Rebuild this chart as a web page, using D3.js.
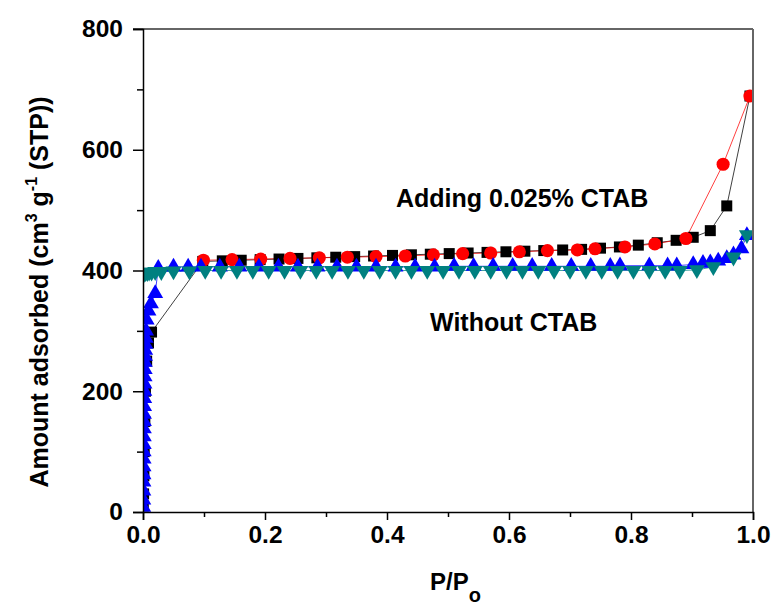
<!DOCTYPE html>
<html><head><meta charset="utf-8">
<script src="https://cdn.jsdelivr.net/npm/d3@7/dist/d3.min.js"></script>
<style>
html,body{margin:0;padding:0;background:#fff;}
svg text{font-family:"Liberation Sans",Arial,sans-serif;font-weight:bold;fill:#000;}
</style></head>
<body>
<svg id="chart" width="774" height="605"></svg>
<script>
// ---- data ----
const xTicks = [0.0, 0.2, 0.4, 0.6, 0.8, 1.0];
const xMinorTicks = [0.1, 0.3, 0.5, 0.7, 0.9];
const yTicks = [0, 200, 400, 600, 800];
const yMinorTicks = [100, 300, 500, 700];

// Adding 0.025% CTAB - adsorption (black squares)
const ctabAdsP = [0.0005, 0.001, 0.0015, 0.002, 0.003, 0.004, 0.006, 0.009, 0.014,
  0.098, 0.13, 0.161, 0.192, 0.223, 0.254, 0.285, 0.316, 0.347, 0.378, 0.409, 0.44, 0.471,
  0.502, 0.533, 0.564, 0.595, 0.626, 0.657, 0.688, 0.719, 0.75, 0.781, 0.812, 0.843, 0.874,
  0.902, 0.93, 0.957, 0.995];
const ctabAdsV = [10, 30, 60, 100, 150, 200, 250, 280, 298,
  415, 416, 417, 418, 419, 420, 421, 422, 423, 424, 425, 426, 427,
  428, 429, 430, 431, 432, 433, 434, 435, 437, 439, 442, 446, 450,
  455, 466, 507, 689];

// Adding 0.025% CTAB - desorption (red circles)
const ctabDesP = [0.099, 0.146, 0.193, 0.241, 0.289, 0.335, 0.382, 0.43, 0.476, 0.524,
  0.57, 0.617, 0.663, 0.712, 0.741, 0.79, 0.839, 0.89, 0.951, 0.995];
const ctabDesV = [417, 418, 419, 420, 421, 422, 423, 424, 426, 428,
  429, 431, 433, 434, 436, 439, 444, 453, 576, 689];

// Without CTAB - adsorption (blue up triangles)
const noAdsP = [0.0004, 0.0005, 0.0006, 0.0007, 0.0008, 0.0009, 0.001, 0.0011, 0.0012, 0.0013,
  0.0014, 0.0015, 0.0016, 0.0018, 0.002, 0.0022, 0.0024, 0.0026, 0.0028, 0.003, 0.0033,
  0.0036, 0.004, 0.0045, 0.005, 0.006, 0.009, 0.013, 0.02, 0.025,
  0.05, 0.074, 0.095, 0.126, 0.158, 0.19, 0.222, 0.254, 0.286, 0.318, 0.35, 0.382, 0.414,
  0.446, 0.478, 0.51, 0.542, 0.574, 0.606, 0.638, 0.67, 0.702, 0.734, 0.766, 0.782, 0.83,
  0.86, 0.875, 0.902, 0.918, 0.93, 0.943, 0.957, 0.968, 0.981, 0.99];
const noAdsV = [8, 20, 35, 50, 62, 75, 88, 100, 112, 125,
  138, 150, 162, 175, 188, 200, 212, 224, 236, 248, 258,
  268, 278, 288, 300, 318, 333, 345, 362, 404,
  406, 406, 406, 406, 406, 406, 406, 406, 406, 406, 406, 406, 406,
  406, 406, 407, 407, 407, 407, 407, 407, 407, 407, 407, 408, 408,
  408, 408, 410, 412, 413, 416, 420, 426, 436, 458];

// Without CTAB - desorption (teal down triangles)
const noDesP = [0.99, 0.968, 0.935, 0.908, 0.88, 0.856, 0.83, 0.804, 0.778, 0.752, 0.726,
  0.7, 0.674, 0.648, 0.622, 0.596, 0.57, 0.544, 0.518, 0.492, 0.466, 0.44, 0.414, 0.388,
  0.362, 0.336, 0.31, 0.284, 0.258, 0.232, 0.206, 0.18, 0.154, 0.128, 0.102, 0.076, 0.05,
  0.03, 0.02, 0.014, 0.01, 0.007, 0.004, 0.002];
const noDesV = [459, 422, 406, 401, 400, 400, 400, 400, 400, 400, 400,
  400, 400, 400, 400, 400, 400, 400, 400, 400, 400, 400, 400, 400,
  400, 400, 400, 400, 400, 400, 400, 400, 400, 400, 400, 399, 399,
  398, 398, 397, 397, 396, 396, 395];

const labelCTAB = "Adding 0.025% CTAB";
const labelNo = "Without CTAB";

// ---- drawing ----
const svg = d3.select("#chart");
const L = 143, R = 753, T = 29, B = 512;
const x = d3.scaleLinear().domain([0, 1]).range([L, R]);
const y = d3.scaleLinear().domain([0, 800]).range([B, T]);

svg.append("defs").append("clipPath").attr("id", "clip")
  .append("rect").attr("x", L).attr("y", T).attr("width", R - L).attr("height", B - T);

const zip = (a, b) => a.map((p, i) => [p, b[i]]);
const series = [
  {p: ctabAdsP, v: ctabAdsV, color: "#000000", sym: d3.symbolSquare, size: 121, rot: 0},
  {p: ctabDesP, v: ctabDesV, color: "#ff0000", sym: d3.symbolCircle, size: 135, rot: 0},
  {p: noAdsP, v: noAdsV, color: "#0000ff", sym: d3.symbolTriangle, size: 110, rot: 0},
  {p: noDesP, v: noDesV, color: "#008080", sym: d3.symbolTriangle, size: 110, rot: 180}
];

const plot = svg.append("g").attr("clip-path", "url(#clip)");
const line = d3.line().x(d => x(d[0])).y(d => y(d[1]));
series.forEach(s => {
  const pts = zip(s.p, s.v);
  plot.append("path").datum(pts).attr("d", line)
    .attr("fill", "none").attr("stroke", s.color).attr("stroke-width", 1).attr("opacity", 0.75);
});
series.forEach(s => {
  const pts = zip(s.p, s.v);
  plot.append("g").selectAll("path").data(pts).join("path")
    .attr("d", d3.symbol().type(s.sym).size(s.size))
    .attr("transform", d => `translate(${x(d[0])},${y(d[1])}) rotate(${s.rot})`)
    .attr("fill", s.color);
});

// frame: top and right
svg.append("line").attr("x1", 133).attr("x2", R).attr("y1", T).attr("y2", T)
  .attr("stroke", "#333").attr("stroke-width", 1.5);
svg.append("line").attr("x1", R).attr("x2", R).attr("y1", T).attr("y2", B)
  .attr("stroke", "#666").attr("stroke-width", 2);

// axes
const xAxis = svg.append("g").attr("transform", `translate(0,${B})`)
  .call(d3.axisBottom(x).tickValues(xTicks).tickFormat(d3.format(".1f")).tickSize(8).tickPadding(6));
const xMinor = svg.append("g").attr("transform", `translate(0,${B})`)
  .call(d3.axisBottom(x).tickValues(xMinorTicks).tickFormat("").tickSize(5));
const yAxis = svg.append("g").attr("transform", `translate(${L},0)`)
  .call(d3.axisLeft(y).tickValues(yTicks).tickFormat(d3.format("d")).tickSize(10).tickPadding(10));
const yMinor = svg.append("g").attr("transform", `translate(${L},0)`)
  .call(d3.axisLeft(y).tickValues(yMinorTicks).tickFormat("").tickSize(6));
[xAxis, xMinor, yAxis, yMinor].forEach(g => {
  g.select(".domain").attr("stroke", "#000").attr("stroke-width", 1.5);
  g.selectAll(".tick line").attr("stroke", "#000").attr("stroke-width", 1.5);
  g.selectAll(".tick text").style("font-size", "24.5px").style("font-family", '"Liberation Sans",Arial,sans-serif')
    .style("font-weight", "bold").attr("fill", "#000");
});
xMinor.select(".domain").remove();
yMinor.select(".domain").remove();

// annotations
svg.append("text").attr("x", 396).attr("y", 207).style("font-size", "25px").text(labelCTAB);
svg.append("text").attr("x", 430).attr("y", 331).style("font-size", "25px").text(labelNo);

// x title
const xt = svg.append("text").attr("x", 430).attr("y", 590).style("font-size", "24px");
xt.append("tspan").text("P/P");
xt.append("tspan").attr("dy", 12).style("font-size", "20px").text("o");

// y title
const yt = svg.append("text").attr("transform", "translate(48,292) rotate(-90)")
  .attr("text-anchor", "middle").style("font-size", "25px");
yt.append("tspan").text("Amount adsorbed (cm");
yt.append("tspan").attr("dy", -11).style("font-size", "16px").text("3");
yt.append("tspan").attr("dy", 11).text(" g");
yt.append("tspan").attr("dy", -11).style("font-size", "16px").text("-1");
yt.append("tspan").attr("dy", 11).text(" (STP))");
</script>
</body></html>
